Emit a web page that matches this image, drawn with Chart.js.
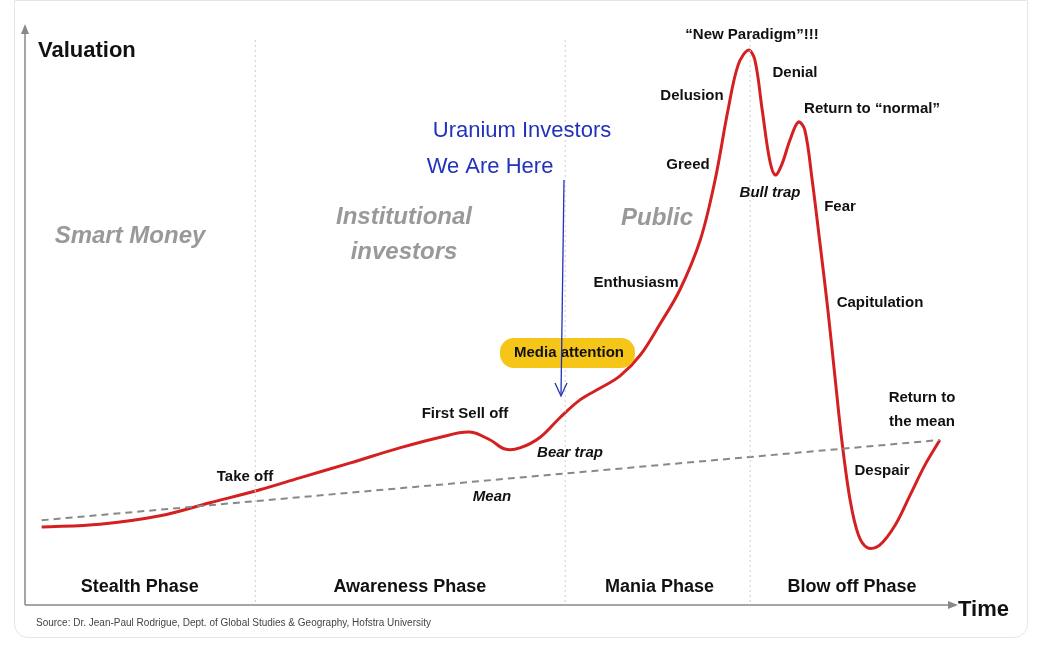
<!DOCTYPE html>
<html><head><meta charset="utf-8">
<script src="https://cdn.jsdelivr.net/npm/chart.js@4"></script>
<style>html,body{margin:0;background:#fff}#wrap{position:absolute;left:14px;top:0;width:1012px;height:636px;background:#fff;border:1px solid #e6e6e6;border-radius:0 0 14px 14px}canvas{position:absolute;left:0;top:0}</style>
</head><body><div id="wrap"></div><canvas id="c" width="1039" height="650"></canvas>
<script>
const timeX = [1.8,8.1,14.6,20.0,25.4,29.7,35.1,40.5,44.9,48.1,50.3,51.9,53.5,55.7,57.8,60.0,62.2,64.3,66.5,68.6,70.8,73.0,74.6,76.0,77.1,78.2,78.9,79.7,80.5,81.1,81.8,82.7,83.6,84.3,85.1,85.9,86.8,87.6,88.3,89.2,90.1,91.1,92.4,94.1,95.7,97.3,98.9];
const valuation = [13.8,14.3,15.8,18.1,20.4,22.5,25.1,27.8,29.7,30.6,29.2,27.6,27.8,29.7,33.1,36.3,38.4,40.5,44.2,49.6,55.8,64.6,75.2,87.6,95.6,98.2,96.5,87.6,78.8,76.1,77.9,82.3,85.5,84.1,75.2,64.6,52.2,39.8,29.2,18.6,12.4,10.1,10.6,14.2,19.5,24.8,29.2];
const meanX = [1.8,98.9];
const meanY = [15.0,29.2];
const phaseBounds = [24.9,58.4,78.4];
const phaseNames = ["Stealth Phase","Awareness Phase","Mania Phase","Blow off Phase"];
const phaseCenters = [12.4,41.6,68.6,89.4];
const X=p=>(p-25)/9.25, Y=p=>(605-p)/5.65;
const labels = [
 ["“New Paradigm”!!!",752,35,"bold 15px"],["Denial",795,73,"bold 15px"],["Delusion",692,96,"bold 15px"],
 ["Return to “normal”",872,109,"bold 15px"],["Greed",688,165,"bold 15px"],["Bull trap",770,193,"italic bold 15px"],
 ["Fear",840,207,"bold 15px"],["Enthusiasm",636,283,"bold 15px"],["Capitulation",880,303,"bold 15px"],
 ["First Sell off",465,414,"bold 15px"],["Bear trap",570,453,"italic bold 15px"],["Take off",245,477,"bold 15px"],
 ["Mean",492,497,"italic bold 15px"],["Return to",922,398,"bold 15px"],["the mean",922,422,"bold 15px"],["Despair",882,471,"bold 15px"]
];
const groups = [["Smart Money",130,236],["Institutional",404,217],["investors",404,252],["Public",657,218]];
const FN="'Liberation Sans Narrow','Liberation Sans',Arial,sans-serif";
const deco={id:'deco',afterDatasetsDraw(ch){
 const c=ch.ctx,xs=ch.scales.x,ys=ch.scales.y,px=v=>xs.getPixelForValue(v),py=v=>ys.getPixelForValue(v);
 const L=px(0),R=px(100),T=py(100),B=py(0);
 c.save();
 c.strokeStyle='#ccc';c.setLineDash([2,3]);c.lineWidth=1;
 phaseBounds.forEach(b=>{c.beginPath();c.moveTo(px(b),T);c.lineTo(px(b),B);c.stroke();});
 c.setLineDash([]);c.strokeStyle='#888';c.fillStyle='#888';c.lineWidth=1.5;
 c.beginPath();c.moveTo(L,B);c.lineTo(L,T-8);c.moveTo(L,B);c.lineTo(R,B);c.stroke();
 c.beginPath();c.moveTo(L-4,T-6);c.lineTo(L,T-16);c.lineTo(L+4,T-6);c.fill();
 c.beginPath();c.moveTo(R-2,B-4);c.lineTo(R+8,B);c.lineTo(R-2,B+4);c.fill();
 c.textAlign='center';c.textBaseline='middle';c.fillStyle='#111';
 c.font="bold 18px "+FN;
 phaseNames.forEach((n,i)=>c.fillText(n,px(phaseCenters[i]),py(Y(587))));
 c.font="bold 22px "+FN;c.textAlign='left';c.fillText("Valuation",38,51);c.fillText("Time",958,610);
 c.font="10px "+FN;c.fillStyle='#444';c.fillText("Source: Dr. Jean-Paul Rodrigue, Dept. of Global Studies & Geography, Hofstra University",36,623);
 c.textAlign='center';
 c.fillStyle='#999';c.font="italic bold 24px "+FN;
 groups.forEach(g=>c.fillText(g[0],px(X(g[1])),py(Y(g[2]))));
 c.fillStyle='#f5c518';const bx=px(X(500)),by=py(Y(338));c.beginPath();c.roundRect(bx,by,135,30,14);c.fill();
 c.fillStyle='#111';c.font="bold 15px "+FN;c.fillText("Media attention",px(X(569)),py(Y(353)));
 labels.forEach(l=>{c.font=l[3]+" "+FN;c.fillText(l[0],px(X(l[1])),py(Y(l[2])));});
 c.fillStyle='#2233bb';c.font="22px "+FN;
 c.fillText("Uranium Investors",px(X(522)),py(Y(131)));c.fillText("We Are Here",px(X(490)),py(Y(167)));
 c.strokeStyle='#2233bb';c.lineWidth=1.3;c.beginPath();c.moveTo(px(X(564)),py(Y(180)));c.lineTo(px(X(561)),py(Y(395)));c.stroke();
 c.beginPath();c.moveTo(px(X(555)),py(Y(383)));c.lineTo(px(X(561)),py(Y(396)));c.lineTo(px(X(567)),py(Y(383)));c.stroke();
 c.restore();}};
new Chart(document.getElementById('c'),{type:'line',
 data:{datasets:[
  {data:meanX.map((x,i)=>({x,y:meanY[i]})),borderColor:'#888',borderDash:[7,5],borderWidth:2,pointRadius:0},
  {data:timeX.map((x,i)=>({x,y:valuation[i]})),borderColor:'#d42020',borderWidth:3,pointRadius:0,tension:0.35}]},
 options:{responsive:false,animation:false,layout:{padding:{left:25,right:89,top:40,bottom:45}},
  plugins:{legend:{display:false},tooltip:{enabled:false}},
  scales:{x:{type:'linear',min:0,max:100,display:false},y:{min:0,max:100,display:false}}},
 plugins:[deco]});
</script></body></html>
